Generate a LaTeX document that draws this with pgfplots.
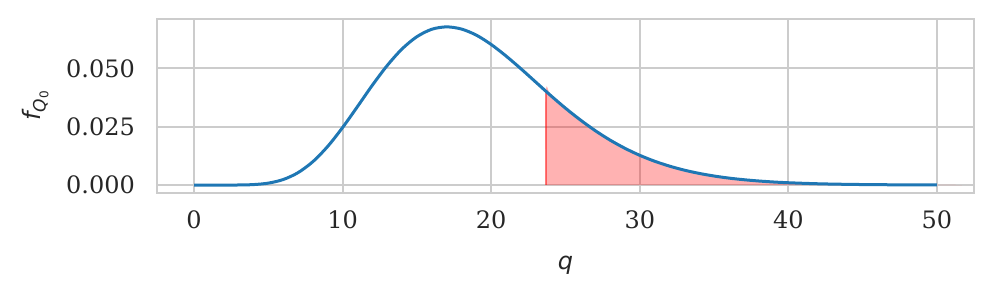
\documentclass[border=0pt]{standalone}
\usepackage{fontspec}
\setmainfont{DejaVu Serif}
\setsansfont{DejaVu Sans}
\usepackage{pgfplots}
\pgfplotsset{compat=1.18}
\definecolor{gridgray}{HTML}{CCCCCC}
\definecolor{txt}{HTML}{262626}
\definecolor{lineblue}{HTML}{1F77B4}
\begin{document}
\begin{tikzpicture}[font=\fontsize{12pt}{14pt}\selectfont]
\useasboundingbox (-78.5pt,-52.5pt) rectangle (418.5pt,96.5pt);
\begin{axis}[
  scale only axis,
  width=408.5pt, height=87pt,
  xmin=-2.5, xmax=52.5,
  ymin=-0.0034, ymax=0.0711,
  xtick={0,10,20,30,40,50},
  ytick={0,0.025,0.05},
  yticklabel style={/pgf/number format/fixed,/pgf/number format/fixed zerofill,/pgf/number format/precision=3,xshift=-7.5pt},
  scaled y ticks=false,
  xticklabel style={yshift=-5.5pt},
  /pgf/number format/assume math mode=true,
  major tick length=0pt,
  tick style={draw=none},
  grid=major,
  major grid style={draw=gridgray, line width=1pt},
  axis line style={draw=gridgray, line width=1.2pt},
  ticklabel style={text=txt},
  xlabel={\sffamily\itshape q},
  xlabel style={text=txt, at={(axis description cs:0.5,-0.414)}, anchor=center},
  ylabel={{\sffamily\itshape f}\raisebox{-0.45ex}{\fontsize{8.5pt}{9pt}\selectfont\sffamily\itshape Q\raisebox{-0.3ex}{\fontsize{6pt}{7pt}\selectfont\upshape 0}}},
  ylabel style={text=txt, at={(axis description cs:-0.149,0.5)}, anchor=center, rotate=0},
  clip=true,
]
\addplot[fill=red, fill opacity=0.3, draw=none, smooth] coordinates {
(23.685,0) (23.685,0.04015) (24,0.03835) (25,0.03291) (26,0.02788) (27,0.02331) (28,0.01925) (29,0.01574) (30,0.01273) (31,0.01020) (32,0.00811) (33,0.00638) (34,0.00499) (35,0.00387) (36,0.00298) (37,0.00229) (38,0.00174) (39,0.00131) (40,0.00099) (42,0.00055) (44,0.00030) (46,0.00016) (48,0.000085) (50,0.000044) (50,0) (23.685,0)
};
\addplot[draw=red, opacity=0.5, line width=1.4pt] coordinates {(23.685,0) (23.685,0.04015)};
\addplot[lineblue, line width=1.5pt, smooth, tension=0.5] coordinates {
(0,0) (1,0.00000001) (2,0.0000015) (3,0.0000294) (4,0.000205) (5,0.00083) (6,0.00237) (7,0.00533) (8,0.01006) (9,0.01661) (10,0.02468) (11,0.03364) (12,0.04277) (13,0.05120) (14,0.05831) (15,0.06354) (16,0.06671) (17,0.06773) (18,0.06679) (19,0.06418) (20,0.06017) (21,0.05524) (22,0.04979) (23,0.04407) (24,0.03835) (25,0.03291) (26,0.02788) (27,0.02331) (28,0.01925) (29,0.01574) (30,0.01273) (31,0.01020) (32,0.00811) (33,0.00638) (34,0.00499) (35,0.00387) (36,0.00298) (37,0.00229) (38,0.00174) (39,0.00131) (40,0.00099) (42,0.00055) (44,0.00030) (46,0.00016) (48,0.000085) (50,0.000044)
};
\end{axis}
\end{tikzpicture}
\end{document}
